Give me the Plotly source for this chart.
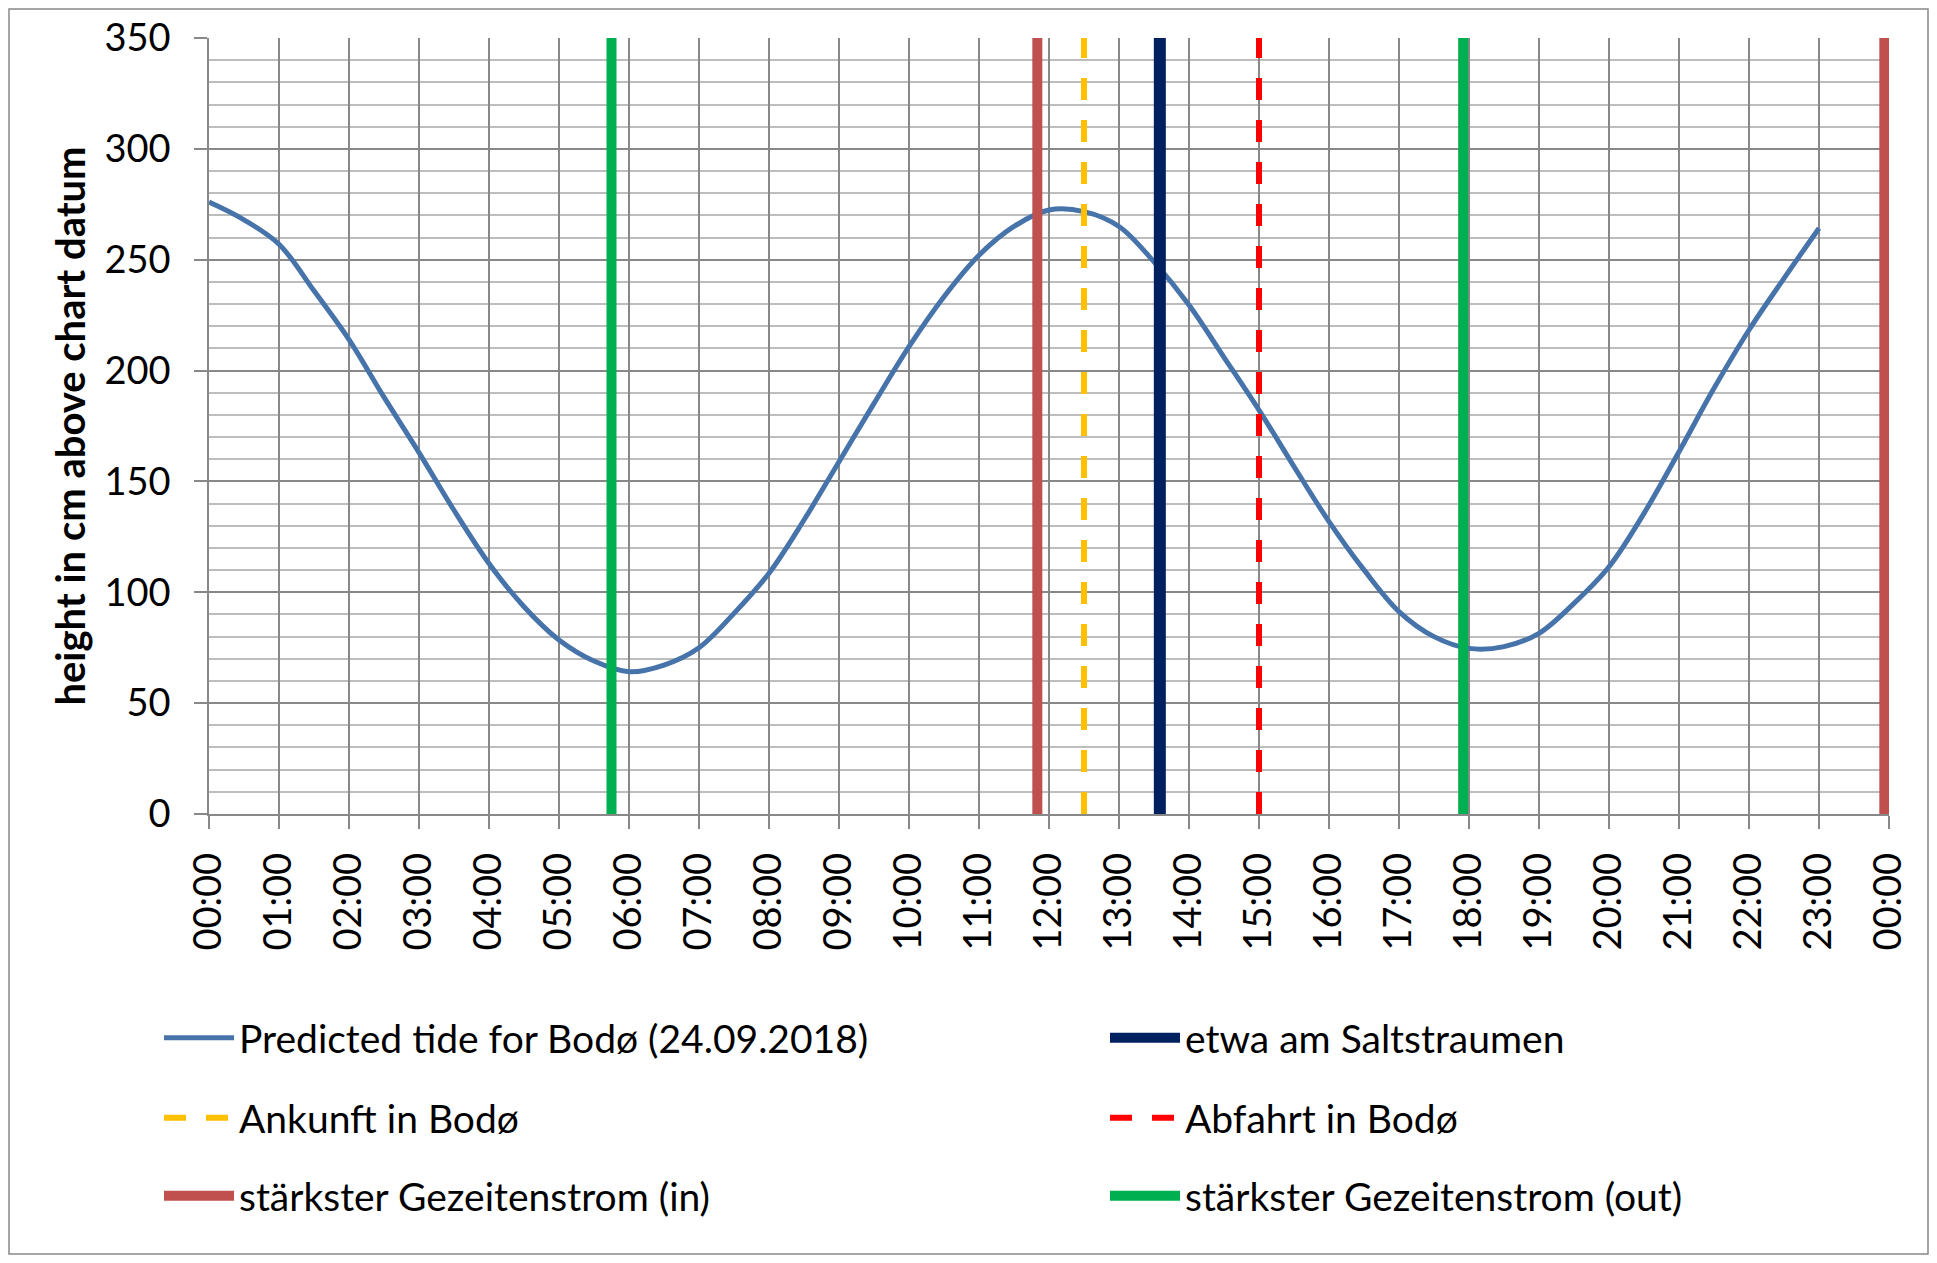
import plotly.graph_objects as go

# ---------------- data ----------------
tide_hours = [0, 0.5, 1, 1.5, 2, 2.5, 3, 3.5, 4, 4.5, 5, 5.5, 6, 6.5, 7, 7.5,
              8, 8.5, 9, 9.5, 10, 10.5, 11, 11.5, 12, 12.5, 13, 13.5, 14, 14.5,
              15, 15.5, 16, 16.5, 17, 17.5, 18, 18.5, 19, 19.5, 20, 20.5, 21,
              21.5, 22, 22.5, 23]
tide_cm = [276, 268, 257, 236, 214, 188, 163, 137, 113, 93.5, 78.5, 69, 64.2,
           67.2, 75, 90.5, 108.6, 132.6, 158.9, 185.2, 210.8, 233.3, 252, 265,
           272.4, 271.7, 265, 249, 229.6, 206, 182.2, 156.7, 131.9, 110.1, 91.3,
           80, 74.7, 75.5, 81.5, 95, 111.5, 135.6, 163.4, 192, 218.3, 241.6, 264.2]

saltstraumen_hour = 13 + 35 / 60
arrival_hour = 12 + 30 / 60
departure_hour = 15.0
current_in_hours = [11 + 50 / 60, 23 + 56 / 60]
current_out_hours = [5 + 45 / 60, 17 + 55 / 60]

y_min, y_max = 0, 350
tick_hours = list(range(0, 25))
tick_labels = [f"{h % 24:02d}:00" for h in tick_hours]

# ---------------- figure ----------------
OFF = 8  # page body margin
W, H = 1937 - 2 * OFF, 1263 - 2 * OFF
L = 209 - OFF
R = W - (1889 - OFF)
T = 38 - OFF
B = H - (814 - OFF)
pw, ph = W - L - R, H - T - B
FONT = "Lato"
fig = go.Figure()


def px_x(px):
    return (px - OFF - L) / pw


def px_y(py):
    return (H - B - (py - OFF)) / ph


fig.add_trace(go.Scatter(
    x=tide_hours, y=tide_cm, mode="lines", line=dict(color="#4673AA", width=5, shape="spline"),
    name="Predicted tide for Bodø (24.09.2018)", legend="legend"))

fig.add_trace(go.Scatter(
    x=[saltstraumen_hour, saltstraumen_hour], y=[y_min, y_max], mode="lines",
    line=dict(color="#002060", width=12), name="etwa am Saltstraumen", legend="legend2"))

fig.add_trace(go.Scatter(
    x=[arrival_hour, arrival_hour], y=[y_min, y_max], mode="lines",
    line=dict(color="#FFC000", width=6, dash="22px,20px"), name="Ankunft in Bodø", legend="legend3"))

fig.add_trace(go.Scatter(
    x=[departure_hour, departure_hour], y=[y_min, y_max], mode="lines",
    line=dict(color="#FF0000", width=6, dash="22px,20px"), name="Abfahrt in Bodø", legend="legend4"))

for i, h in enumerate(current_in_hours):
    fig.add_trace(go.Scatter(
        x=[h, h], y=[y_min, y_max], mode="lines", line=dict(color="#C0504D", width=10),
        name="stärkster Gezeitenstrom (in)", legend="legend5", legendgroup="in",
        showlegend=(i == 0)))

for i, h in enumerate(current_out_hours):
    fig.add_trace(go.Scatter(
        x=[h, h], y=[y_min, y_max], mode="lines", line=dict(color="#00B050", width=10),
        name="stärkster Gezeitenstrom (out)", legend="legend6", legendgroup="out",
        showlegend=(i == 0)))

leg_font = dict(family=FONT, size=39, color="#000000")
col_x = [px_x(159), px_x(1105)]
row_y = [px_y(1038), px_y(1118), px_y(1196)]
legends = {}
for k in range(6):
    key = "legend" if k == 0 else f"legend{k + 1}"
    legends[key] = dict(x=col_x[k % 2], y=row_y[k // 2], xanchor="left", yanchor="middle",
                        font=leg_font, bgcolor="rgba(0,0,0,0)", itemwidth=70,
                        orientation="h", borderwidth=0)

# outer chart border (just inside the figure edges)
bx0, bx1 = -L / pw + 1 / pw, (W - L - 1) / pw
by0, by1 = -(B - 1) / ph, (H - B - 1) / ph

fig.update_layout(
    width=W, height=H,
    margin=dict(l=L, r=R, t=T, b=B, autoexpand=False),
    paper_bgcolor="white", plot_bgcolor="white",
    font=dict(family=FONT, color="#000000"),
    showlegend=True,
    **legends,
    xaxis=dict(
        range=[0, 24], tickvals=tick_hours, ticktext=tick_labels, tickangle=-90,
        showgrid=True, gridcolor="#888888", gridwidth=1.5,
        ticks="outside", ticklen=13, tickcolor="#888888", tickwidth=1.5,
        showline=True, linecolor="#888888", linewidth=1.5,
        tickfont=dict(family=FONT, size=38, color="#000000"), ticklabelstandoff=9,
        zeroline=False, fixedrange=True, automargin=False),
    yaxis=dict(
        range=[y_min, y_max], dtick=50, tick0=0,
        showgrid=True, gridcolor="#888888", gridwidth=1.5,
        minor=dict(dtick=10, showgrid=True, gridcolor="#BDBDBD", gridwidth=2, ticks=""),
        ticks="outside", ticklen=13, tickcolor="#888888", tickwidth=1.5,
        showline=True, linecolor="#888888", linewidth=1.5,
        tickfont=dict(family=FONT, size=38, color="#000000"), ticklabelstandoff=16,
        title=dict(text="<b>height in cm above chart datum</b>",
                   font=dict(family=FONT, size=40, color="#000000"), standoff=7),
        zeroline=False, fixedrange=True, automargin=False),
    shapes=[dict(type="rect", xref="paper", yref="paper",
                 x0=bx0, x1=bx1, y0=by0, y1=by1,
                 line=dict(color="#888888", width=1.5), fillcolor="rgba(0,0,0,0)", layer="below")],
)

fig.write_html("out.html")
